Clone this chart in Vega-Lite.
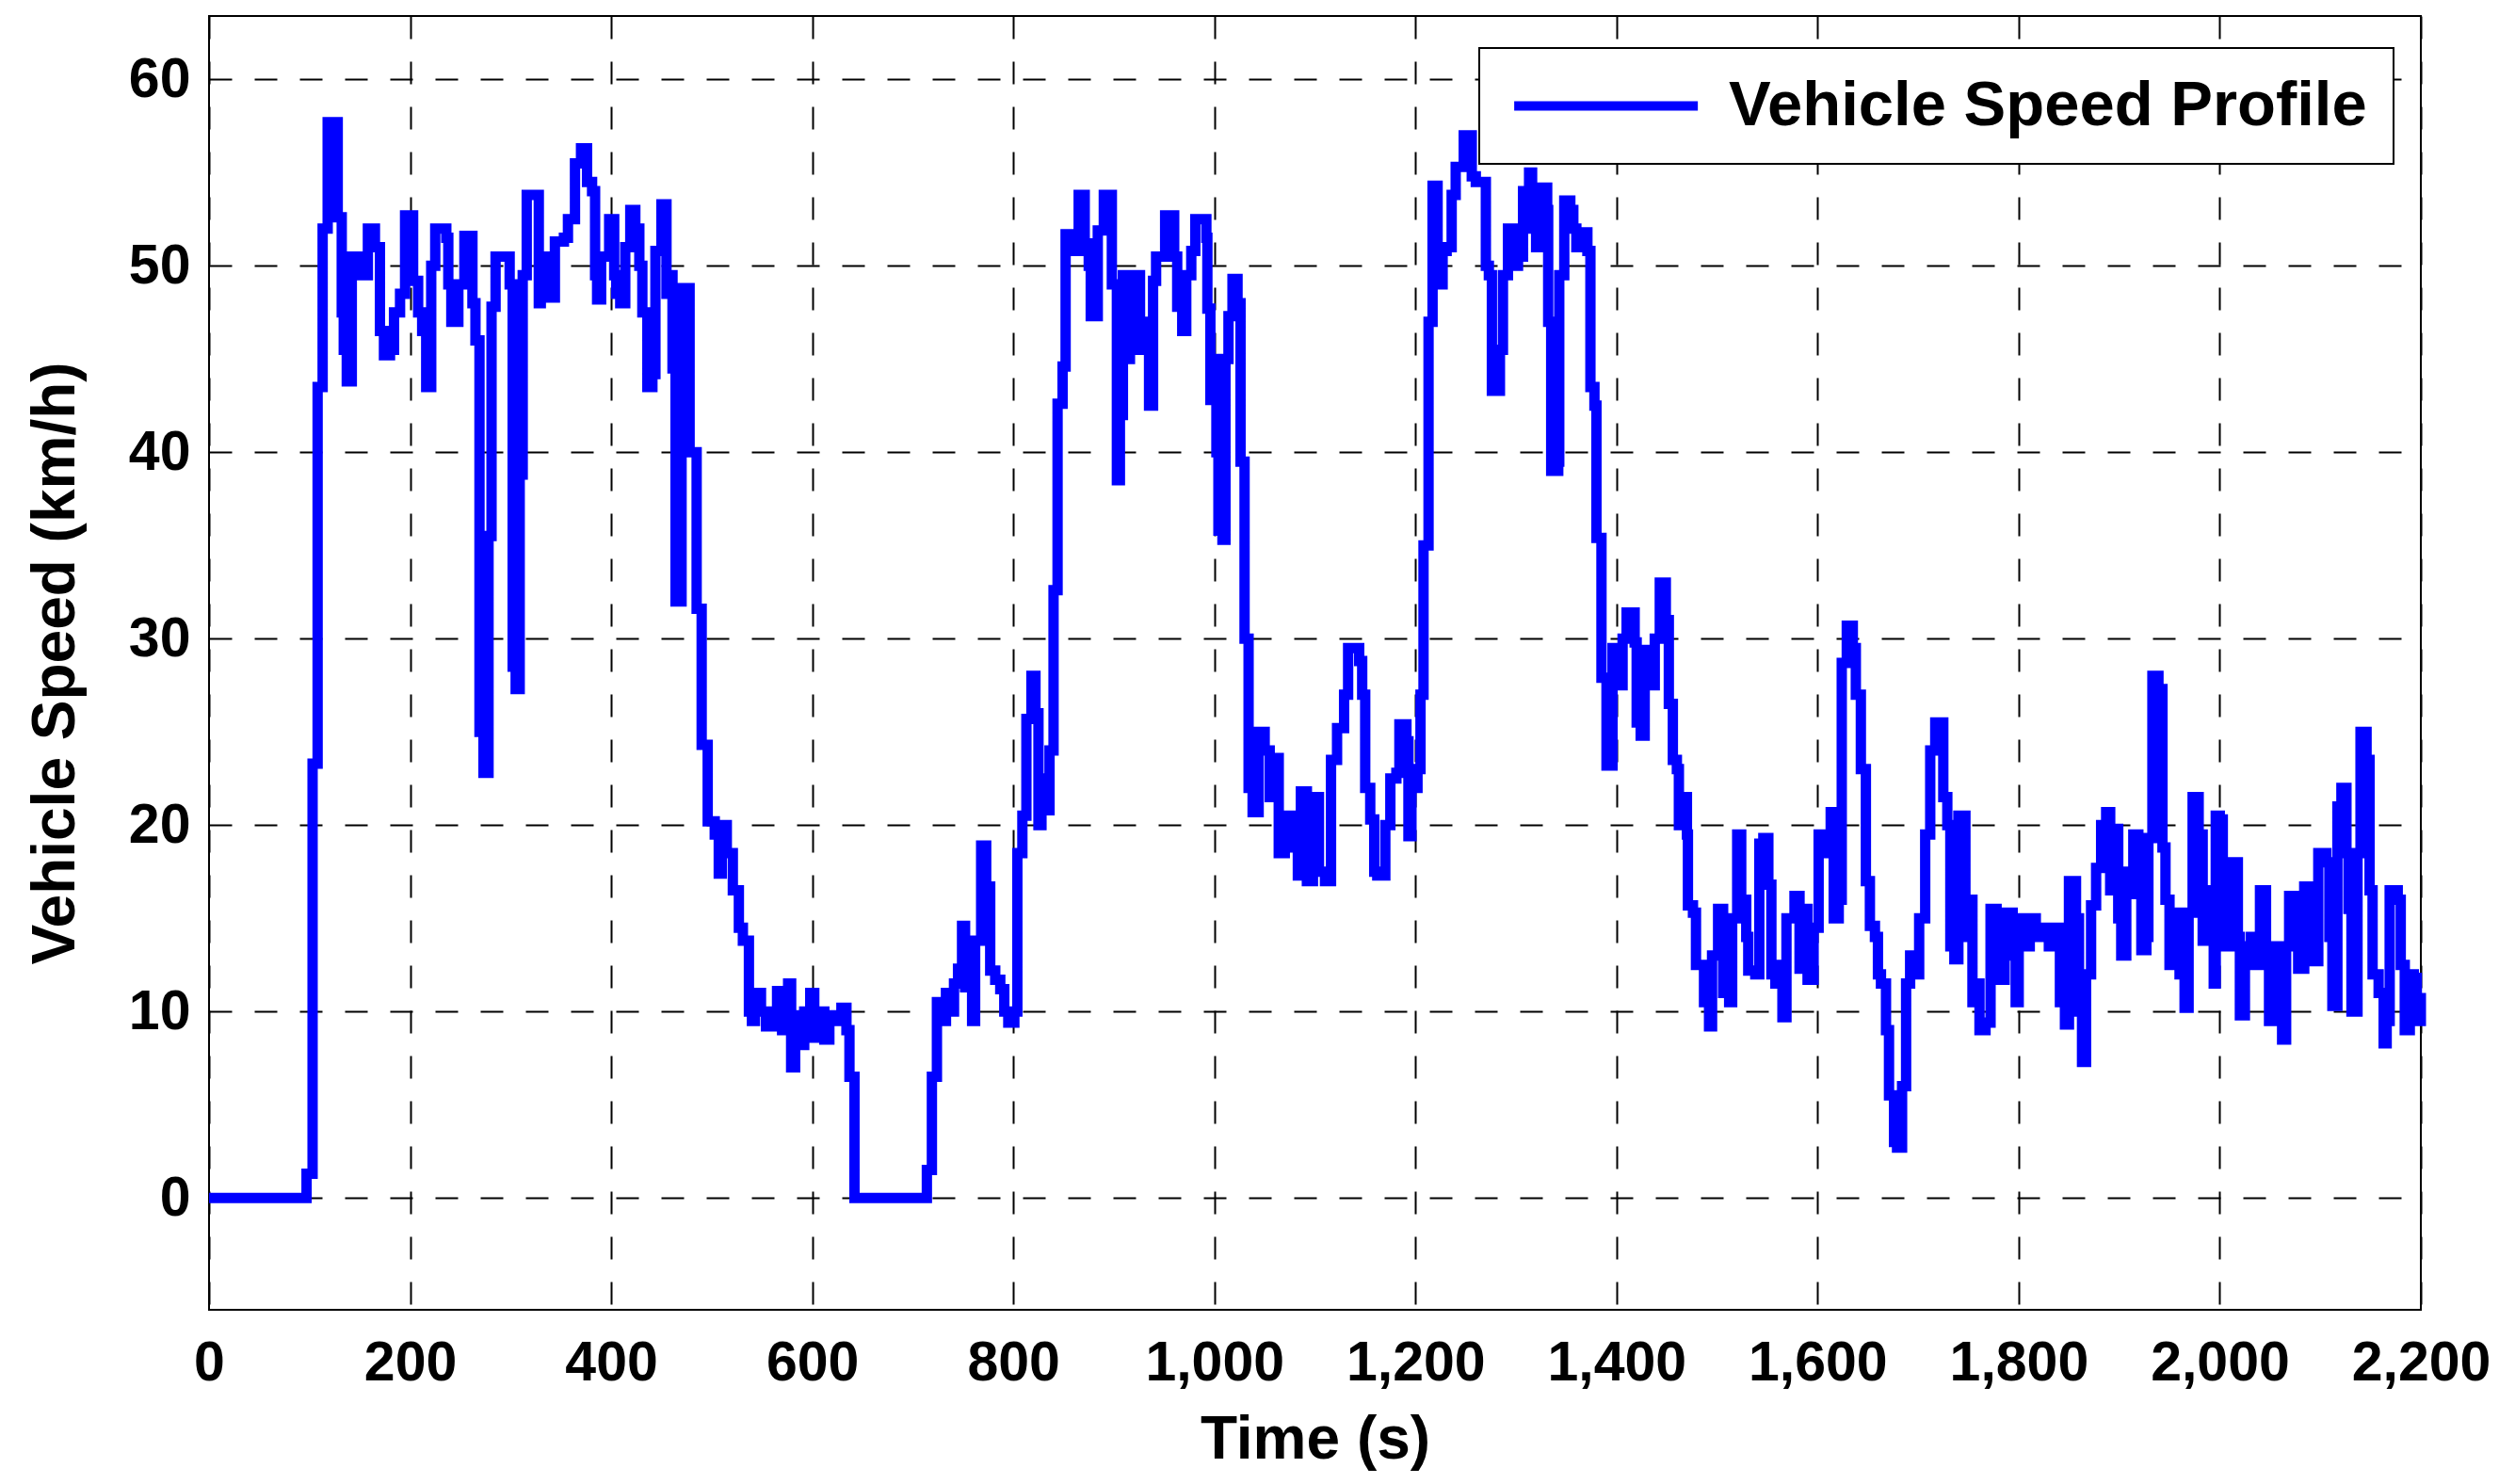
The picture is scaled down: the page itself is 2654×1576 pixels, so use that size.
{
  "$schema": "https://vega.github.io/schema/vega-lite/v6.json",
  "width": 2349,
  "height": 1374,
  "autosize": {"type": "none"},
  "padding": {"left": 222, "top": 17, "right": 83, "bottom": 185},
  "background": "white",
  "config": {
    "view": {"stroke": "black", "strokeWidth": 2},
    "font": "Liberation Sans",
    "axis": {
      "domain": false,
      "ticks": false,
      "grid": true,
      "gridColor": "black",
      "gridDash": [24, 24],
      "gridWidth": 2,
      "gridOpacity": 1,
      "labelFont": "Liberation Sans",
      "labelFontWeight": "bold",
      "labelFontSize": 59,
      "labelColor": "black",
      "titleFont": "Liberation Sans",
      "titleFontWeight": "bold",
      "titleFontSize": 64,
      "titleColor": "black",
      "labelOverlap": false,
      "labelBound": false,
      "labelFlush": false
    },
    "legend": {"strokeWidth": 2}
  },
  "data": {"values": [
    {"t":0,"v":0},{"t":97,"v":1.3},{"t":103,"v":23.3},{"t":108,"v":43.5},{"t":113,"v":52},{"t":118,"v":57.7},{"t":128,"v":52.6},{"t":132,"v":47.5},{"t":134,"v":45.5},{"t":137,"v":43.8},{"t":142,"v":50.5},{"t":150,"v":49.5},{"t":158,"v":52},{"t":165,"v":51},{"t":170,"v":46.5},{"t":174,"v":45.2},{"t":180,"v":45.5},{"t":184,"v":47.5},{"t":190,"v":48.5},{"t":195,"v":52.7},{"t":203,"v":49.2},{"t":208,"v":47.5},{"t":212,"v":46.5},{"t":216,"v":43.5},{"t":221,"v":50},{"t":225,"v":52},{"t":236,"v":51.5},{"t":238,"v":49},{"t":241,"v":47},{"t":248,"v":49},{"t":254,"v":51.6},{"t":262,"v":48},{"t":265,"v":46},{"t":269,"v":25},{"t":273,"v":22.8},{"t":278,"v":35.5},{"t":281,"v":47.8},{"t":285,"v":50.5},{"t":299,"v":49},{"t":302,"v":28.5},{"t":305,"v":27.3},{"t":309,"v":38.8},{"t":312,"v":49.5},{"t":316,"v":53.8},{"t":328,"v":48},{"t":330,"v":50.5},{"t":340,"v":48.3},{"t":344,"v":51.3},{"t":353,"v":51.5},{"t":357,"v":52.5},{"t":364,"v":55.5},{"t":370,"v":56.3},{"t":376,"v":54.5},{"t":381,"v":54},{"t":384,"v":49.5},{"t":386,"v":48.2},{"t":390,"v":50.5},{"t":398,"v":52.5},{"t":403,"v":49.5},{"t":405,"v":48.5},{"t":409,"v":48},{"t":414,"v":51},{"t":419,"v":53},{"t":424,"v":52},{"t":428,"v":50},{"t":431,"v":47.5},{"t":436,"v":43.5},{"t":441,"v":44.2},{"t":444,"v":50.8},{"t":450,"v":53.3},{"t":455,"v":48.5},{"t":459,"v":49.5},{"t":461,"v":44.5},{"t":464,"v":32},{"t":470,"v":48.8},{"t":478,"v":40},{"t":485,"v":31.6},{"t":490,"v":24.3},{"t":496,"v":20.2},{"t":503,"v":19.5},{"t":507,"v":17.4},{"t":510,"v":20},{"t":515,"v":18.5},{"t":521,"v":16.5},{"t":527,"v":14.5},{"t":531,"v":13.8},{"t":537,"v":10},{"t":540,"v":9.5},{"t":543,"v":11},{"t":549,"v":10},{"t":554,"v":9.2},{"t":560,"v":10},{"t":565,"v":11.1},{"t":570,"v":9},{"t":576,"v":11.5},{"t":579,"v":7},{"t":583,"v":9.8},{"t":588,"v":8.2},{"t":592,"v":10},{"t":598,"v":11},{"t":602,"v":8.6},{"t":606,"v":10},{"t":612,"v":8.5},{"t":617,"v":9.8},{"t":623,"v":9.5},{"t":629,"v":10.2},{"t":634,"v":9},{"t":637,"v":6.5},{"t":642,"v":0},{"t":714,"v":1.5},{"t":719,"v":6.5},{"t":724,"v":10.5},{"t":728,"v":9.5},{"t":733,"v":11},{"t":738,"v":10},{"t":741,"v":11.5},{"t":745,"v":12.3},{"t":749,"v":14.6},{"t":752,"v":11.3},{"t":755,"v":11.5},{"t":759,"v":9.5},{"t":762,"v":13.8},{"t":768,"v":18.9},{"t":773,"v":16.7},{"t":777,"v":12.2},{"t":782,"v":11.7},{"t":787,"v":11.2},{"t":791,"v":10},{"t":795,"v":9.4},{"t":801,"v":10},{"t":804,"v":18.5},{"t":809,"v":20.5},{"t":813,"v":25.7},{"t":818,"v":28},{"t":822,"v":26},{"t":825,"v":20},{"t":828,"v":22.5},{"t":833,"v":20.8},{"t":836,"v":24},{"t":840,"v":32.6},{"t":844,"v":42.6},{"t":849,"v":44.6},{"t":852,"v":51.7},{"t":858,"v":50.8},{"t":865,"v":53.8},{"t":871,"v":51.2},{"t":875,"v":50},{"t":877,"v":47.3},{"t":884,"v":51.9},{"t":890,"v":53.8},{"t":898,"v":49},{"t":903,"v":38.5},{"t":906,"v":42},{"t":909,"v":49.5},{"t":913,"v":45},{"t":916,"v":49},{"t":921,"v":49.5},{"t":926,"v":45.5},{"t":931,"v":47},{"t":935,"v":42.5},{"t":939,"v":49.2},{"t":942,"v":50.5},{"t":951,"v":52.7},{"t":960,"v":50.5},{"t":963,"v":47.8},{"t":968,"v":46.5},{"t":972,"v":49.5},{"t":977,"v":50.8},{"t":981,"v":52.5},{"t":992,"v":51.5},{"t":993,"v":47.7},{"t":996,"v":42.8},{"t":999,"v":45},{"t":1002,"v":40},{"t":1004,"v":35.8},{"t":1008,"v":35.3},{"t":1011,"v":45},{"t":1014,"v":47.3},{"t":1018,"v":49.3},{"t":1023,"v":48},{"t":1026,"v":39.5},{"t":1030,"v":30},{"t":1034,"v":22},{"t":1038,"v":20.7},{"t":1044,"v":25},{"t":1050,"v":24},{"t":1055,"v":21.5},{"t":1058,"v":23.6},{"t":1064,"v":18.5},{"t":1070,"v":20.5},{"t":1076,"v":18.8},{"t":1083,"v":17.3},{"t":1086,"v":21.8},{"t":1092,"v":17},{"t":1098,"v":21.5},{"t":1104,"v":17.5},{"t":1110,"v":17},{"t":1116,"v":23.5},{"t":1122,"v":25.2},{"t":1129,"v":27},{"t":1133,"v":29.5},{"t":1144,"v":28.8},{"t":1147,"v":27},{"t":1150,"v":22},{"t":1155,"v":20.3},{"t":1159,"v":17.5},{"t":1162,"v":17.3},{"t":1170,"v":20},{"t":1175,"v":22.5},{"t":1181,"v":22.8},{"t":1184,"v":25.4},{"t":1191,"v":24.5},{"t":1193,"v":19.4},{"t":1196,"v":22},{"t":1202,"v":23},{"t":1205,"v":27},{"t":1208,"v":35},{"t":1213,"v":47},{"t":1217,"v":54.3},{"t":1222,"v":49},{"t":1227,"v":50.8},{"t":1231,"v":51},{"t":1236,"v":53.8},{"t":1240,"v":55.3},{"t":1248,"v":57},{"t":1256,"v":54.8},{"t":1260,"v":54.5},{"t":1270,"v":50},{"t":1273,"v":49.5},{"t":1276,"v":43.3},{"t":1284,"v":45.5},{"t":1287,"v":49.5},{"t":1292,"v":52},{"t":1298,"v":50},{"t":1302,"v":50.5},{"t":1307,"v":54},{"t":1313,"v":55},{"t":1316,"v":52},{"t":1320,"v":51},{"t":1324,"v":54.2},{"t":1331,"v":53},{"t":1332,"v":47},{"t":1335,"v":39},{"t":1342,"v":39.5},{"t":1343,"v":49.5},{"t":1348,"v":53.5},{"t":1354,"v":53},{"t":1357,"v":52},{"t":1360,"v":51},{"t":1365,"v":51.8},{"t":1371,"v":50.8},{"t":1374,"v":43.5},{"t":1378,"v":42.5},{"t":1380,"v":35.4},{"t":1385,"v":27.9},{"t":1390,"v":23.2},{"t":1396,"v":29.5},{"t":1402,"v":27.5},{"t":1406,"v":30},{"t":1410,"v":31.4},{"t":1418,"v":29.8},{"t":1420,"v":25.5},{"t":1424,"v":24.8},{"t":1428,"v":29.4},{"t":1434,"v":27.5},{"t":1438,"v":30},{"t":1443,"v":33},{"t":1449,"v":31},{"t":1452,"v":26.5},{"t":1456,"v":23.5},{"t":1460,"v":23},{"t":1462,"v":20},{"t":1467,"v":21.5},{"t":1470,"v":19.5},{"t":1471,"v":15.7},{"t":1476,"v":15.3},{"t":1479,"v":12.5},{"t":1487,"v":10.5},{"t":1492,"v":9.2},{"t":1495,"v":13},{"t":1501,"v":15.5},{"t":1506,"v":11},{"t":1509,"v":13.8},{"t":1512,"v":10.5},{"t":1515,"v":15},{"t":1520,"v":19.5},{"t":1524,"v":16},{"t":1529,"v":14},{"t":1531,"v":12.2},{"t":1538,"v":12},{"t":1542,"v":19},{"t":1546,"v":19.3},{"t":1551,"v":16.8},{"t":1554,"v":12},{"t":1558,"v":11.5},{"t":1563,"v":12.5},{"t":1565,"v":9.7},{"t":1569,"v":15},{"t":1577,"v":16.2},{"t":1582,"v":12.3},{"t":1586,"v":15.5},{"t":1590,"v":11.7},{"t":1596,"v":14.5},{"t":1601,"v":19.5},{"t":1608,"v":18.5},{"t":1613,"v":20.7},{"t":1616,"v":15},{"t":1621,"v":16},{"t":1624,"v":28.7},{"t":1629,"v":30.7},{"t":1635,"v":29.5},{"t":1638,"v":27},{"t":1643,"v":23},{"t":1648,"v":17},{"t":1652,"v":14.6},{"t":1657,"v":14},{"t":1660,"v":12},{"t":1663,"v":11.5},{"t":1668,"v":9},{"t":1671,"v":5.5},{"t":1676,"v":3},{"t":1679,"v":2.7},{"t":1684,"v":6},{"t":1688,"v":11.5},{"t":1692,"v":13},{"t":1698,"v":12},{"t":1701,"v":15},{"t":1707,"v":19.5},{"t":1712,"v":24},{"t":1717,"v":25.5},{"t":1725,"v":21.5},{"t":1729,"v":20},{"t":1732,"v":13.5},{"t":1736,"v":12.8},{"t":1740,"v":20.5},{"t":1747,"v":14},{"t":1750,"v":16},{"t":1754,"v":10.5},{"t":1758,"v":11.5},{"t":1761,"v":9},{"t":1767,"v":9.4},{"t":1772,"v":15.5},{"t":1778,"v":14.5},{"t":1781,"v":11.7},{"t":1786,"v":15.3},{"t":1794,"v":13},{"t":1797,"v":10.5},{"t":1800,"v":15},{"t":1806,"v":13.5},{"t":1811,"v":15},{"t":1817,"v":14},{"t":1824,"v":14.5},{"t":1830,"v":13.5},{"t":1836,"v":14.5},{"t":1841,"v":10.5},{"t":1846,"v":9.3},{"t":1850,"v":17},{"t":1857,"v":15},{"t":1860,"v":10},{"t":1863,"v":7.3},{"t":1867,"v":12},{"t":1872,"v":15.7},{"t":1877,"v":17.7},{"t":1882,"v":20},{"t":1887,"v":20.7},{"t":1891,"v":16.5},{"t":1894,"v":19.8},{"t":1899,"v":15},{"t":1902,"v":13},{"t":1907,"v":17.5},{"t":1911,"v":16.3},{"t":1914,"v":19.5},{"t":1919,"v":16.8},{"t":1922,"v":13.3},{"t":1927,"v":14},{"t":1929,"v":19.3},{"t":1933,"v":28},{"t":1939,"v":27.3},{"t":1943,"v":18.8},{"t":1946,"v":16},{"t":1950,"v":12.5},{"t":1956,"v":15.3},{"t":1960,"v":12},{"t":1965,"v":10.2},{"t":1969,"v":15.3},{"t":1973,"v":21.5},{"t":1979,"v":19.5},{"t":1983,"v":13.8},{"t":1986,"v":16.5},{"t":1989,"v":14},{"t":1994,"v":11.5},{"t":1996,"v":20.5},{"t":2000,"v":20.3},{"t":2003,"v":18},{"t":2006,"v":13.5},{"t":2011,"v":16.5},{"t":2014,"v":18},{"t":2018,"v":14},{"t":2020,"v":9.8},{"t":2025,"v":13.5},{"t":2031,"v":14},{"t":2035,"v":12.5},{"t":2040,"v":16.5},{"t":2046,"v":12.5},{"t":2049,"v":9.5},{"t":2054,"v":13.5},{"t":2058,"v":11.5},{"t":2062,"v":8.5},{"t":2066,"v":13.5},{"t":2069,"v":16.2},{"t":2075,"v":15},{"t":2078,"v":12.3},{"t":2084,"v":16.7},{"t":2091,"v":13.5},{"t":2094,"v":12.7},{"t":2098,"v":18.5},{"t":2106,"v":18},{"t":2109,"v":14},{"t":2112,"v":10.3},{"t":2117,"v":21},{"t":2121,"v":22},{"t":2126,"v":18.5},{"t":2128,"v":15.5},{"t":2131,"v":10},{"t":2137,"v":18.5},{"t":2140,"v":25},{"t":2146,"v":23.5},{"t":2149,"v":16.5},{"t":2152,"v":12},{"t":2158,"v":11},{"t":2163,"v":8.3},{"t":2166,"v":9.5},{"t":2169,"v":16.5},{"t":2177,"v":16},{"t":2180,"v":12.5},{"t":2184,"v":9},{"t":2189,"v":12},{"t":2193,"v":11.8},{"t":2196,"v":9.5},{"t":2200,"v":11}
  ]},
  "mark": {"type": "line", "interpolate": "step-after", "strokeWidth": 11, "strokeJoin": "miter"},
  "encoding": {
    "x": {
      "field": "t", "type": "quantitative",
      "scale": {"domain": [0, 2200], "nice": false, "zero": false},
      "axis": {"values": [0,200,400,600,800,1000,1200,1400,1600,1800,2000,2200], "format": ",.0f", "title": "Time (s)", "labelPadding": 27, "titlePadding": 20}
    },
    "y": {
      "field": "v", "type": "quantitative",
      "scale": {"domain": [-6, 63.4], "nice": false, "zero": false},
      "axis": {"values": [0,10,20,30,40,50,60], "format": ".0f", "title": "Vehicle Speed (km/h)", "labelPadding": 20, "titlePadding": 45}
    },
    "color": {
      "datum": "Vehicle Speed Profile", "type": "nominal",
      "scale": {"range": ["#0000ff"]},
      "legend": {
        "title": null, "orient": "none", "legendX": 1349, "legendY": 34,
        "strokeColor": "black", "fillColor": "white", "padding": 28,
        "symbolType": "M-1,0H7", "symbolSize": 2377, "symbolStrokeWidth": 10,
        "labelFont": "Liberation Sans", "labelFontWeight": "bold", "labelFontSize": 67,
        "labelColor": "black", "labelOffset": 170, "labelLimit": 0
      }
    }
  }
}
